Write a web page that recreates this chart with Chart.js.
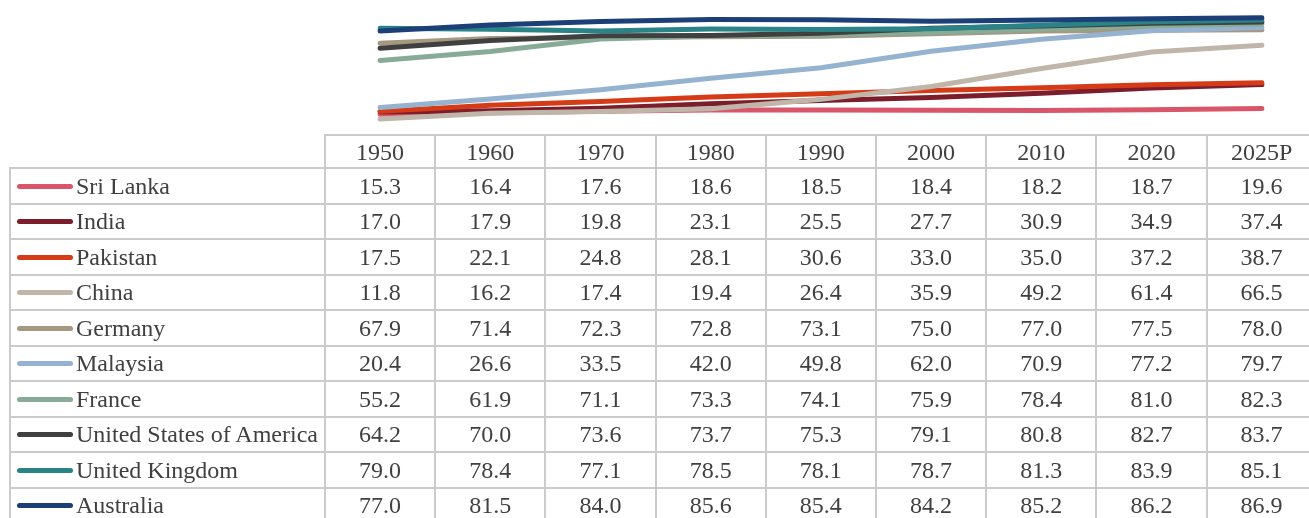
<!DOCTYPE html>
<html>
<head>
<meta charset="utf-8">
<script src="https://cdn.jsdelivr.net/npm/chart.js@4"></script>
<style>
  html, body { margin: 0; padding: 0; background: #fff; width: 1309px; height: 518px; overflow: hidden; }
  #wrap { position: relative; width: 1309px; height: 518px; overflow: hidden; }
  #chartBox { position: absolute; left: 325px; top: 0; width: 992px; height: 135px; }
  table { position: absolute; left: 9px; top: 134px; width: 1306.8px; border-collapse: collapse; table-layout: fixed; }
  td { border: 2px solid #cbcbcb; padding: 0; height: 33.5px; text-align: center; white-space: nowrap; overflow: hidden;
       font-family: "Liberation Serif", "Times New Roman", serif; font-size: 24px; color: #404040; line-height: 26px; }
  tr.head td { height: 31px; }
  td.corner { border-top: none; border-left: none; }
  td.name { text-align: left; }
  .swatch { display: inline-block; width: 56px; height: 5px; border-radius: 2.5px; margin: 0 3px 0 6px; vertical-align: middle; position: relative; top: -2px; }
</style>
</head>
<body>
<div id="wrap">
  <div id="chartBox"><canvas id="c" width="992" height="135"></canvas></div>
  <table id="tbl"></table>
</div>
<script>
const years = ["1950", "1960", "1970", "1980", "1990", "2000", "2010", "2020", "2025P"];
const countries = ["Sri Lanka", "India", "Pakistan", "China", "Germany", "Malaysia", "France",
                   "United States of America", "United Kingdom", "Australia"];
const colors = ["#d9566a", "#7c1d2b", "#d63b17", "#bfb6a9", "#a69781", "#95b3d1", "#88ab97",
                "#404040", "#2a8386", "#1c3f78"];

const sriLanka  = [15.3, 16.4, 17.6, 18.6, 18.5, 18.4, 18.2, 18.7, 19.6];
const india     = [17.0, 17.9, 19.8, 23.1, 25.5, 27.7, 30.9, 34.9, 37.4];
const pakistan  = [17.5, 22.1, 24.8, 28.1, 30.6, 33.0, 35.0, 37.2, 38.7];
const china     = [11.8, 16.2, 17.4, 19.4, 26.4, 35.9, 49.2, 61.4, 66.5];
const germany   = [67.9, 71.4, 72.3, 72.8, 73.1, 75.0, 77.0, 77.5, 78.0];
const malaysia  = [20.4, 26.6, 33.5, 42.0, 49.8, 62.0, 70.9, 77.2, 79.7];
const france    = [55.2, 61.9, 71.1, 73.3, 74.1, 75.9, 78.4, 81.0, 82.3];
const usa       = [64.2, 70.0, 73.6, 73.7, 75.3, 79.1, 80.8, 82.7, 83.7];
const uk        = [79.0, 78.4, 77.1, 78.5, 78.1, 78.7, 81.3, 83.9, 85.1];
const australia = [77.0, 81.5, 84.0, 85.6, 85.4, 84.2, 85.2, 86.2, 86.9];

const series = [sriLanka, india, pakistan, china, germany, malaysia, france, usa, uk, australia];

// --- data table under the chart ---
const tbl = document.getElementById("tbl");
let html = '<colgroup><col style="width:315px">';
years.forEach(() => { html += '<col style="width:110.2px">'; });
html += '</colgroup><tr class="head"><td class="corner"></td>';
years.forEach(y => { html += "<td>" + y + "</td>"; });
html += "</tr>";
countries.forEach((name, i) => {
  html += '<tr><td class="name"><span class="swatch" style="background:' + colors[i] + '"></span>' + name + "</td>";
  series[i].forEach(v => { html += "<td>" + v.toFixed(1) + "</td>"; });
  html += "</tr>";
});
tbl.innerHTML = html;

// --- line chart, columns lined up with the table ---
new Chart(document.getElementById("c"), {
  type: "line",
  data: {
    labels: years,
    datasets: countries.map((name, i) => ({
      label: name,
      data: series[i],
      borderColor: colors[i],
      backgroundColor: colors[i],
      borderWidth: 5,
      borderCapStyle: "round",
      pointRadius: 0,
      tension: 0,
      order: countries.length - i // last series drawn on top
    }))
  },
  options: {
    responsive: false,
    animation: false,
    devicePixelRatio: 1,
    layout: { padding: 0 },
    scales: {
      x: { display: false, offset: true },
      y: { display: false, min: 0, max: 100 }
    },
    plugins: { legend: { display: false }, tooltip: { enabled: false } }
  }
});
</script>
</body>
</html>
